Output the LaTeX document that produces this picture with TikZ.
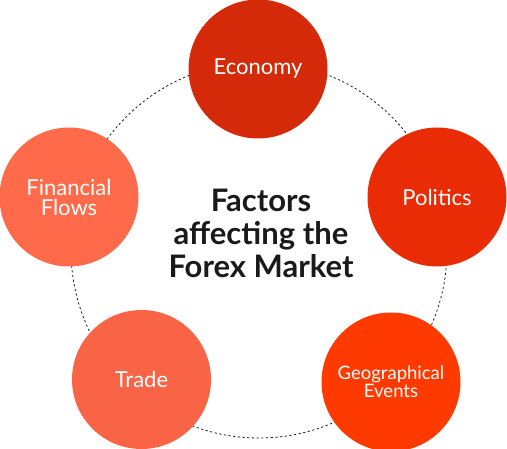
\documentclass[tikz,border=0pt]{standalone}
\usepackage{fontspec}
\setmainfont{Lato}
\usetikzlibrary{positioning}
\definecolor{ecored}{HTML}{D42A0A}
\definecolor{polred}{HTML}{E92C05}
\definecolor{geored}{HTML}{FF3A00}
\definecolor{tradered}{HTML}{F96446}
\definecolor{finred}{HTML}{FF6A4B}
\definecolor{inkgray}{HTML}{1A1A1A}
\begin{document}
\begin{tikzpicture}[x=1pt,y=-1pt,
    factor/.style={circle,minimum size=139pt,inner sep=0pt,text=white,
                   align=center,font=\fontsize{22}{20}\selectfont},
    ring/.style={draw=inkgray,line width=0.8pt,dash pattern=on 2.2pt off 2.5pt}]
        \useasboundingbox (0,0) rectangle (507,449);
        % dotted ring behind the factors
        \draw[ring] (259,250) circle[radius=188pt];
        \node[factor,fill=ecored]   (economy)  at (258,69)    {Economy};
        \node[factor,fill=polred]   (politics) at (437,197)   {Politics};
        \node[factor,fill=geored,font=\fontsize{18.5}{18.5}\selectfont]
              (geo)      at (391,382) {Geographical\\Events};
        \node[factor,fill=tradered] (trade)    at (141.5,379.5) {Trade};
        \node[factor,fill=finred]   (finance)  at (69,197)    {Financial\\Flows};
        \node[text=inkgray,align=center,font=\bfseries\fontsize{31}{33}\selectfont]
              (title) at (261,233) {Factors\\affecting the\\Forex Market};
\end{tikzpicture}
\end{document}
